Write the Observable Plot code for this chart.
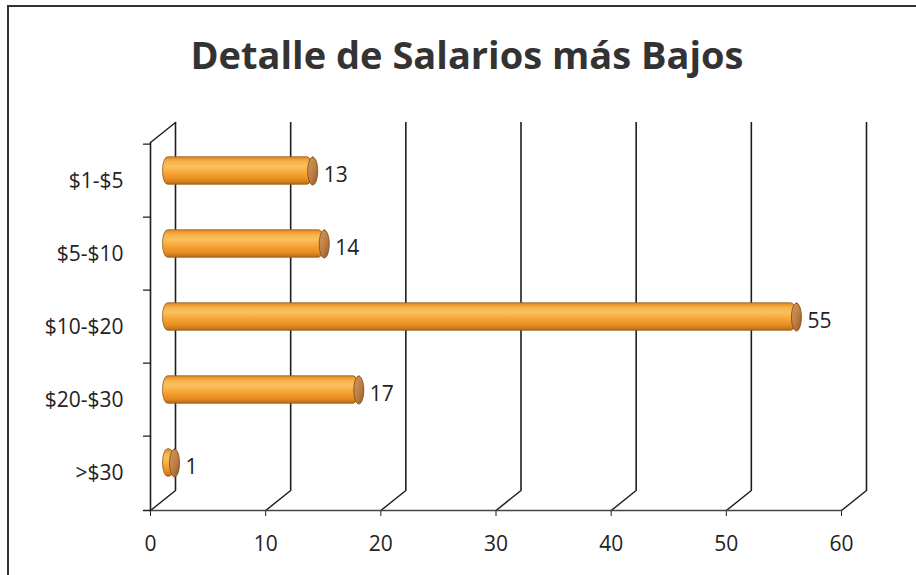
<!DOCTYPE html>
<html>
<head>
<meta charset="utf-8">
<script src="https://cdn.jsdelivr.net/npm/d3@7"></script>
<script src="https://cdn.jsdelivr.net/npm/@observablehq/plot@0.6"></script>
<style>
  html, body { margin: 0; padding: 0; background: #fff; }
  #wrap { position: relative; width: 916px; height: 575px; overflow: hidden; background: #fff; }
  #border { position: absolute; left: 7px; top: 5px; right: -10px; bottom: -10px;
            border-left: 2px solid #333; border-top: 2px solid #333; }
  #title { position: absolute; left: 9px; width: 916px; top: 32px; text-align: center;
           font-family: "Open Sans", sans-serif; font-weight: 700; font-size: 38px;
           line-height: 44px; color: #333; }
  #chart { position: absolute; left: 0; top: 0; }
  #chart svg text { font-size: 21px !important; font-family: "Open Sans", sans-serif !important; fill: #222; }
</style>
</head>
<body>
<div id="wrap">
  <div id="border"></div>
  <div id="chart"></div>
  <div id="title">Detalle de Salarios más Bajos</div>
</div>
<script>
// ---- data ----
const categories = ["$1-$5", "$5-$10", "$10-$20", "$20-$30", ">$30"];
const values = [13, 14, 55, 17, 1];
const xTicks = [0, 10, 20, 30, 40, 50, 60];
const xDomain = [0, 60];

const data = categories.map((c, i) => ({cat: c, value: values[i]}));

// ---- layout ----
const W = 916, H = 575;
const mL = 150, mR = 75, mT = 142, mB = 65;
const depthX = 25, depthY = -20;          // 3D depth of the back wall
const bw = (H - mT - mB) / categories.length;
const diagLen = Math.hypot(depthX, depthY);
const diagRot = Math.atan2(depthX, -depthY) * 180 / Math.PI;

const lineShape = { draw(ctx, l) { ctx.moveTo(0, 0); ctx.lineTo(0, -l); } };
const capRx = 5;
const ellipseShape = {
  draw(ctx, l) {
    const ry = l / 2, rx = capRx, cy = -ry, k = 0.5523;
    ctx.moveTo(0, cy - ry);
    ctx.bezierCurveTo(rx * k, cy - ry, rx, cy - ry * k, rx, cy);
    ctx.bezierCurveTo(rx, cy + ry * k, rx * k, cy + ry, 0, cy + ry);
    ctx.bezierCurveTo(-rx * k, cy + ry, -rx, cy + ry * k, -rx, cy);
    ctx.bezierCurveTo(-rx, cy - ry * k, -rx * k, cy - ry, 0, cy - ry);
    ctx.closePath();
  }
};

const ink = "#1e1e1e";
const barH = 28;
const barInset = (bw - barH) / 2;
const barDx = depthX / 2, barDy = depthY / 2;

const plot = Plot.plot({
  width: W, height: H,
  marginLeft: mL, marginRight: mR, marginTop: mT, marginBottom: mB,
  style: { fontFamily: "'Open Sans', sans-serif", fontSize: "21px", color: ink, background: "transparent" },
  x: { domain: xDomain, ticks: xTicks, tickSize: 6, tickPadding: 20, label: null },
  y: { domain: categories, padding: 0, tickSize: 0, tickPadding: 27, label: null },
  marks: [
    // back wall vertical grid lines
    Plot.ruleX(xTicks, { x: d => d, dx: depthX, dy: depthY, stroke: ink, strokeWidth: 1.6 }),
    // floor diagonals
    Plot.vector(xTicks, { x: d => d, frameAnchor: "bottom", anchor: "start", length: diagLen, rotate: diagRot,
                          shape: lineShape, stroke: ink, strokeWidth: 1.5 }),
    // left wall top diagonal
    Plot.vector([0], { x: d => d, frameAnchor: "top", anchor: "start", length: diagLen, rotate: diagRot,
                       shape: lineShape, stroke: ink, strokeWidth: 1.5 }),
    // front vertical axis
    Plot.ruleX([0], { x: d => d, stroke: ink, strokeWidth: 1.6 }),
    // front baseline
    Plot.frame({ anchor: "bottom", stroke: "#444", strokeWidth: 1.5 }),
    // category boundary ticks on the left
    Plot.vector(categories, { x: () => 0, y: d => d, dy: -bw / 2, anchor: "start", length: 7, rotate: -90,
                              shape: lineShape, stroke: ink, strokeWidth: 1.3 }),
    Plot.vector([0], { frameAnchor: "bottom-left", anchor: "start", length: 7, rotate: -90,
                       shape: lineShape, stroke: ink, strokeWidth: 1.3 }),
    // cylinder bodies
    Plot.barX(data, { x: "value", y: "cat", dx: barDx, dy: barDy, insetTop: barInset, insetBottom: barInset,
                      rx: capRx, ry: barH / 2, fill: "url(#cyl)", stroke: "#8a5a22", strokeWidth: 0.8 }),
    // cylinder end caps
    Plot.vector(data, { x: "value", y: "cat", dx: barDx, dy: barDy, anchor: "middle", length: barH, rotate: 0,
                        shape: ellipseShape, fill: "url(#cap)", stroke: "#7a4a1a", strokeWidth: 0.8 }),
    // value labels
    Plot.text(data, { x: "value", y: "cat", text: d => String(d.value), dx: barDx + 11, dy: barDy + 4,
                      textAnchor: "start", fontSize: 21, fill: ink })
  ]
});

// gradients for the cylinder look
const svg = d3.select(plot);
const defs = svg.insert("defs", ":first-child");
const g1 = defs.append("linearGradient").attr("id", "cyl").attr("x1", 0).attr("y1", 0).attr("x2", 0).attr("y2", 1);
[["0%", "#e3881e"], ["18%", "#f8b24a"], ["35%", "#fbc060"], ["60%", "#f6a434"], ["85%", "#e38a1e"], ["100%", "#b86a16"]]
  .forEach(([o, c]) => g1.append("stop").attr("offset", o).attr("stop-color", c));
const g2 = defs.append("linearGradient").attr("id", "cap").attr("x1", 0).attr("y1", 0).attr("x2", 1).attr("y2", 1);
[["0%", "#d49a5e"], ["60%", "#b97a40"], ["100%", "#8e5524"]]
  .forEach(([o, c]) => g2.append("stop").attr("offset", o).attr("stop-color", c));

document.getElementById("chart").appendChild(plot);
</script>
</body>
</html>
